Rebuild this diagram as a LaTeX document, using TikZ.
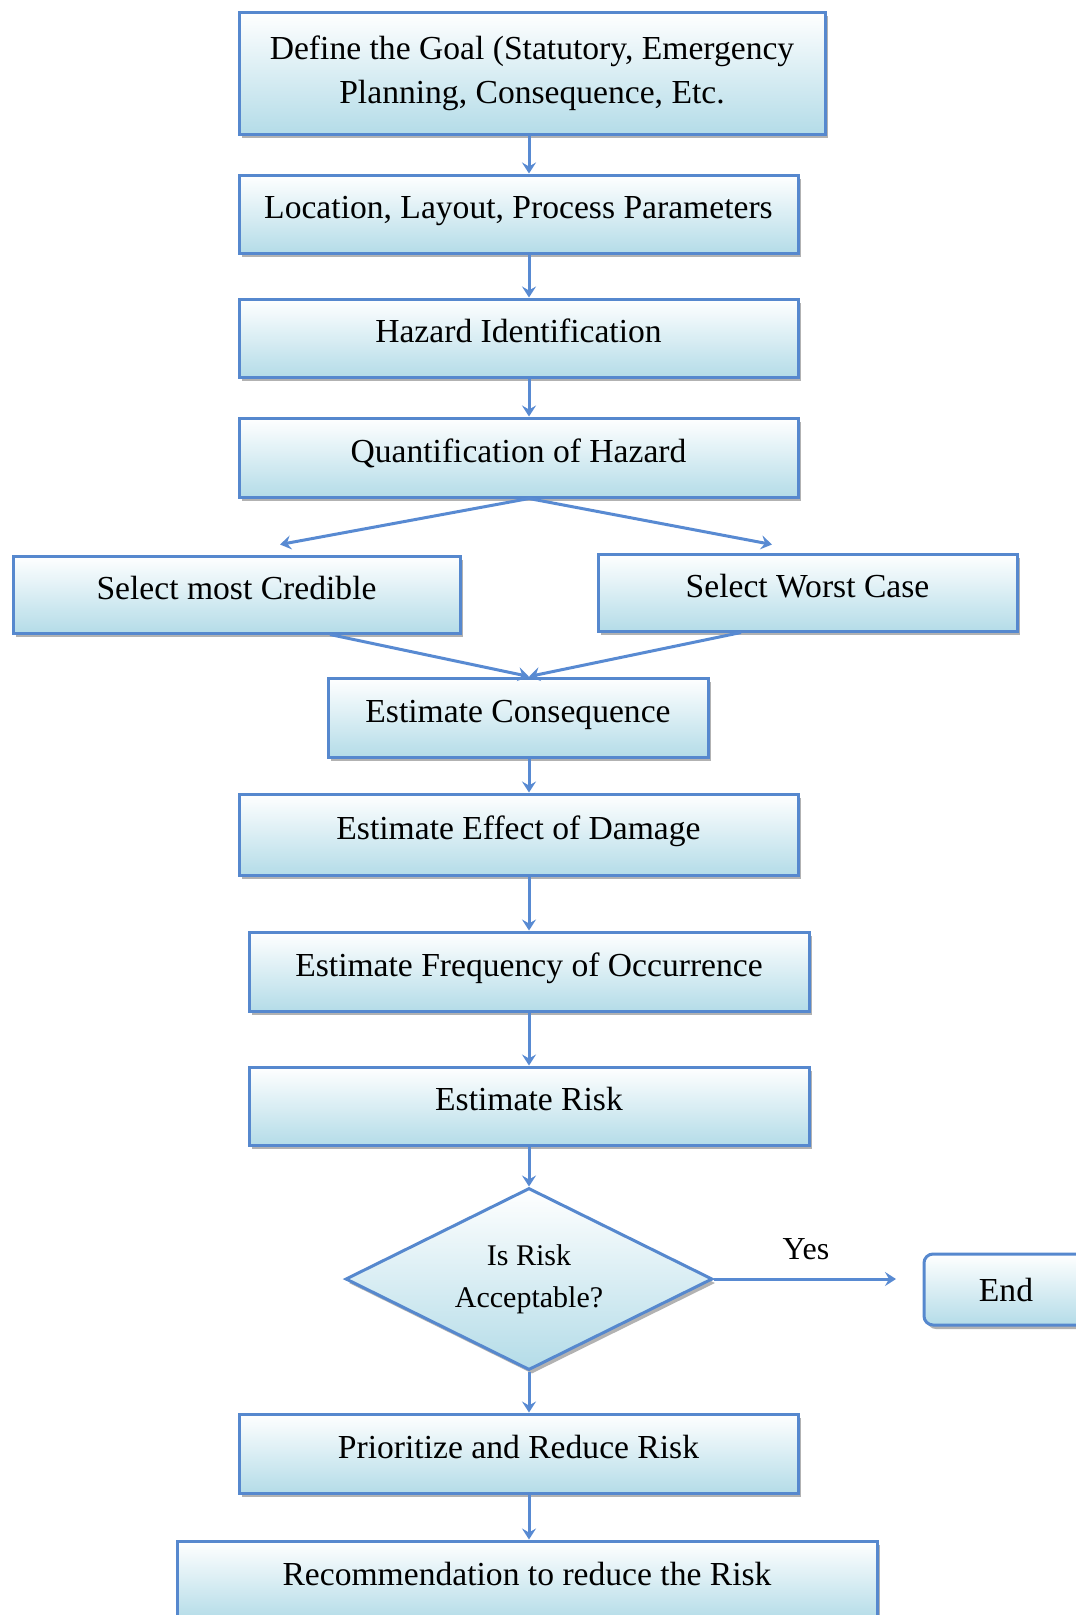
\documentclass[tikz,border=0pt]{standalone}
\usepackage{fontspec}
\setmainfont{Liberation Serif}
\usetikzlibrary{shapes.geometric,shadows,arrows.meta}
\definecolor{lineblue}{RGB}{86,136,206}
\definecolor{arrblue}{RGB}{88,138,210}
\definecolor{fillb}{RGB}{180,220,232}
\begin{document}
\begin{tikzpicture}[x=1pt,y=-1pt,
  box/.style={draw=lineblue, line width=3pt, top color=white, bottom color=fillb,
    inner sep=0pt, align=center, font=\fontsize{33.6}{44}\selectfont,
    drop shadow={shadow xshift=3pt, shadow yshift=-4pt, fill=black!55, opacity=0.55}},
  lift/.style={text height=23pt, text depth=14pt},
  arr/.style={draw=arrblue, line width=3pt, -{Stealth[length=11pt,width=14pt,inset=4pt]}}]
\useasboundingbox (0,0) rectangle (1076,1615);
\clip (0,0) rectangle (1076,1615);
\fill[white] (0,0) rectangle (1076,1615);

\node[box, minimum width=586, minimum height=122] (b1) at (532,73) {Define the Goal (Statutory, Emergency\\Planning, Consequence, Etc.};
\node[box, lift, minimum width=559, minimum height=78] (b2) at (518.5,214) {Location, Layout, Process Parameters};
\node[box, lift, minimum width=559, minimum height=78] (b3) at (518.5,338) {Hazard Identification};
\node[box, lift, minimum width=559, minimum height=79] (b4) at (518.5,457.5) {Quantification of Hazard};
\node[box, lift, minimum width=447, minimum height=77] (b5L) at (236.5,594.5) {Select most Credible};
\node[box, lift, minimum width=419, minimum height=77] (b5R) at (807.5,592.5) {Select Worst Case};
\node[box, lift, minimum width=380, minimum height=79] (b6) at (518,717.5) {Estimate Consequence};
\node[box, lift, minimum width=559, minimum height=81] (b7) at (518.5,834.5) {Estimate Effect of Damage};
\node[box, lift, minimum width=560, minimum height=79] (b8) at (529,971.5) {Estimate Frequency of Occurrence};
\node[box, lift, minimum width=560, minimum height=78] (b9) at (529,1106) {Estimate Risk};
\node[box, diamond, aspect=2, minimum width=367, minimum height=182, font=\fontsize{30}{42}\selectfont] (d) at (529,1279) {Is Risk\\Acceptable?};
\node[box, rounded corners=9pt, minimum width=164, minimum height=71] (e) at (1006,1289.5) {End};
\node[box, lift, minimum width=559, minimum height=79] (b10) at (518.5,1453.5) {Prioritize and Reduce Risk};
\node[box, lift, minimum width=700, minimum height=79] (b11) at (527,1580.5) {Recommendation to reduce the Risk};
\node[font=\fontsize{32}{38}\selectfont, inner sep=0pt] (yes) at (806,1249) {Yes};

\coordinate (ax) at (529,0);
\coordinate (yesend) at (896,1279);

\draw[arr] (b1.south -| ax) -- (b2.north -| ax);
\draw[arr] (b2.south -| ax) -- (b3.north -| ax);
\draw[arr] (b3.south -| ax) -- (b4.north -| ax);
\draw[arr] (b4.south -| ax) -- ([xshift=43.5pt,yshift=10pt]b5L.north);
\draw[arr] (b4.south -| ax) -- ([xshift=-35.5pt,yshift=8pt]b5R.north);
\draw[arr] ([xshift=93.5pt]b5L.south) -- (b6.north -| ax);
\draw[arr] ([xshift=-66.5pt]b5R.south) -- (b6.north -| ax);
\draw[arr] (b6.south -| ax) -- (b7.north -| ax);
\draw[arr] (b7.south -| ax) -- (b8.north -| ax);
\draw[arr] (b8.south -| ax) -- (b9.north -| ax);
\draw[arr] (b9.south -| ax) -- (d.north);
\draw[arr] (d.east) -- (yesend);
\draw[arr] (d.south) -- (b10.north -| ax);
\draw[arr] (b10.south -| ax) -- (b11.north -| ax);
\end{tikzpicture}
\end{document}
